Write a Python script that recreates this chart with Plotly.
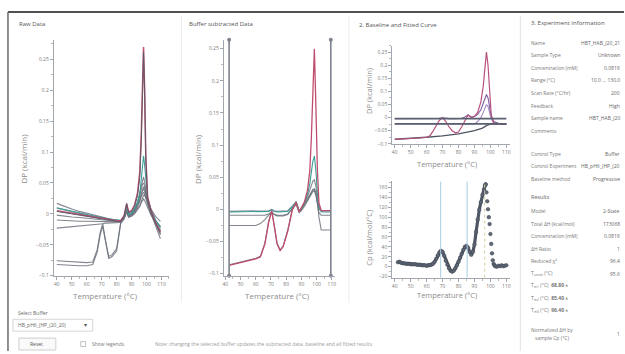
import plotly.graph_objects as go

W, H = 625, 354


def fx(p):
    return p / W


def fy(p):
    return 1 - p / H


FONT = "Open Sans"
GRAY = "#6c717c"
RED = "#c04d6e"
TEAL = "#3a9f97"
AXIS = "#a2a6ad"
TXT = "#6a6a6a"

# ---------------- Raw thermograms (DP, kcal/min) ----------------
RAW_T = [40, 45, 50, 55, 60, 64, 67, 69, 70.7, 72.5, 74.7, 77, 80, 82.7, 85, 86.7, 88, 90,
         92, 94, 95.5, 96.5, 97.3, 98, 98.7, 99.5, 100.7, 103, 106, 109.3]
raw_g1 = [0.017, 0.012, 0.008, 0.004, 0.001, -0.002, -0.004, -0.005, -0.006, -0.007, -0.008, -0.009,
          -0.010, -0.011, -0.007, 0.004, -0.004, -0.003, 0.002, 0.008, 0.014, 0.020, 0.026, 0.030,
          0.030, 0.026, 0.020, 0.008, -0.004, -0.012]
raw_g2 = [0.009, 0.006, 0.003, 0.000, -0.002, -0.004, -0.005, -0.006, -0.007, -0.008, -0.009, -0.010,
          -0.011, -0.012, -0.006, 0.008, -0.002, 0.000, 0.006, 0.014, 0.022, 0.032, 0.040, 0.044,
          0.040, 0.032, 0.022, 0.006, -0.010, -0.022]
raw_g3 = [0.004, 0.002, 0.000, -0.002, -0.004, -0.005, -0.006, -0.007, -0.008, -0.009, -0.010, -0.011,
          -0.012, -0.012, -0.004, 0.017, 0.002, 0.004, 0.012, 0.030, 0.060, 0.120, 0.200, 0.262,
          0.200, 0.090, 0.025, 0.004, -0.015, -0.032]
raw_g4 = [-0.002, -0.004, -0.005, -0.006, -0.007, -0.008, -0.009, -0.009, -0.010, -0.010, -0.011, -0.011,
          -0.012, -0.013, -0.005, 0.012, 0.000, 0.002, 0.008, 0.020, 0.035, 0.050, 0.058, 0.060,
          0.052, 0.038, 0.022, 0.000, -0.020, -0.040]
raw_g5 = [-0.010, -0.011, -0.011, -0.012, -0.012, -0.012, -0.012, -0.012, -0.012, -0.012, -0.012, -0.012,
          -0.013, -0.013, -0.006, 0.006, -0.003, -0.001, 0.004, 0.012, 0.020, 0.028, 0.033, 0.035,
          0.032, 0.026, 0.018, 0.000, -0.015, -0.028]
raw_g6 = [-0.023, -0.022, -0.021, -0.020, -0.019, -0.018, -0.017, -0.016, -0.016, -0.015, -0.015, -0.014,
          -0.014, -0.014, -0.008, 0.002, -0.006, -0.004, 0.000, 0.006, 0.012, 0.018, 0.022, 0.024,
          0.022, 0.018, 0.012, -0.002, -0.012, -0.020]
raw_l1 = [-0.076, -0.077, -0.078, -0.078, -0.079, -0.078, -0.058, -0.030, -0.016, -0.042, -0.069, -0.066,
          -0.056, -0.014, -0.006, 0.010, -0.002, 0.000, 0.006, 0.016, 0.028, 0.040, 0.048, 0.050,
          0.045, 0.034, 0.020, 0.002, -0.016, -0.034]
raw_l2 = [-0.082, -0.083, -0.083, -0.084, -0.084, -0.082, -0.062, -0.034, -0.020, -0.046, -0.072, -0.069,
          -0.060, -0.016, -0.008, 0.006, -0.004, -0.002, 0.004, 0.012, 0.022, 0.032, 0.038, 0.040,
          0.036, 0.028, 0.016, 0.000, -0.012, -0.026]
raw_red = [0.005, 0.003, 0.001, -0.001, -0.003, -0.004, -0.005, -0.006, -0.007, -0.008, -0.009, -0.010,
           -0.011, -0.011, -0.003, 0.016, 0.003, 0.005, 0.014, 0.034, 0.068, 0.130, 0.210, 0.270,
           0.205, 0.095, 0.028, 0.005, -0.014, -0.030]
raw_teal = [0.010, 0.007, 0.004, 0.001, -0.001, -0.003, -0.004, -0.005, -0.006, -0.007, -0.008, -0.009,
            -0.010, -0.011, -0.005, 0.009, -0.001, 0.001, 0.008, 0.018, 0.032, 0.055, 0.082, 0.094,
            0.080, 0.052, 0.026, 0.006, -0.010, -0.022]

# ---------------- Buffer-subtracted thermograms ----------------
BUF_T = [42.5, 48, 54, 60, 63, 66, 68.5, 70.5, 72, 74, 76, 78, 81, 84, 86.5, 88.5, 90, 92, 94,
         95.5, 96.5, 97.5, 98.5, 99.5, 100.5, 101.5, 103, 105, 109.3]
buf_low = [-0.086, -0.083, -0.080, -0.076, -0.073, -0.052, -0.018, -0.004, -0.022, -0.052, -0.063,
           -0.057, -0.032, 0.000, 0.012, -0.003, 0.002, 0.010, 0.020, 0.030, 0.038, 0.044, 0.046,
           0.036, 0.018, 0.004, -0.002, -0.002, -0.002]
buf_red = [-0.087, -0.084, -0.081, -0.077, -0.074, -0.054, -0.020, -0.002, -0.024, -0.054, -0.064,
           -0.058, -0.034, -0.001, 0.011, -0.004, 0.003, 0.012, 0.030, 0.060, 0.110, 0.190, 0.250,
           0.160, 0.060, 0.010, -0.002, -0.002, -0.002]
buf_teal = [-0.004, -0.004, -0.004, -0.004, -0.004, -0.004, -0.003, -0.001, -0.003, -0.004, -0.004,
            -0.004, -0.003, 0.004, 0.011, -0.002, 0.002, 0.010, 0.024, 0.040, 0.058, 0.075, 0.083,
            0.060, 0.025, 0.004, -0.004, -0.004, -0.004]
buf_g1 = [-0.003, -0.003, -0.003, -0.003, -0.003, -0.003, -0.002, 0.000, -0.002, -0.003, -0.003,
          -0.003, -0.002, 0.005, 0.012, -0.002, 0.001, 0.008, 0.016, 0.022, 0.027, 0.031, 0.032,
          0.026, 0.012, 0.000, -0.002, -0.002, -0.002]
buf_g2 = [-0.009, -0.009, -0.009, -0.009, -0.009, -0.009, -0.007, -0.004, -0.007, -0.009, -0.009,
          -0.009, -0.007, 0.001, 0.008, -0.005, -0.002, 0.005, 0.013, 0.019, 0.024, 0.028, 0.029,
          0.022, 0.008, -0.005, -0.009, -0.009, -0.009]
buf_g3 = [-0.025, -0.025, -0.025, -0.025, -0.022, -0.016, -0.009, -0.005, -0.008, -0.010, -0.010,
          -0.010, -0.008, 0.002, 0.010, -0.004, 0.000, 0.007, 0.015, 0.021, 0.026, 0.030, 0.031,
          0.024, 0.010, -0.012, -0.032, -0.032, -0.032]
BUF_RANGE_T = [42.5, 109.3]

# ---------------- Baselines and fitted curves ----------------
LEVEL_T = [40, 110]
level_a = [-0.004, -0.004]
level_b = [-0.024, -0.024]
PB_T = [40, 50, 60, 70, 80, 90, 95, 98, 100, 104, 110]
prog_base = [-0.083, -0.080, -0.075, -0.070, -0.062, -0.050, -0.040, -0.029, -0.025, -0.025, -0.026]
FIT_T = [40, 45, 50, 55, 60, 62, 64, 66, 68, 70, 72, 74, 76, 78, 80, 82, 84, 86, 88, 90, 92, 94,
         95.5, 96.5, 97.5, 98.5, 99.5, 100.5, 102, 105, 110]
fit_main = [-0.083, -0.082, -0.080, -0.078, -0.075, -0.070, -0.052, -0.030, -0.010, 0.000, -0.015,
            -0.035, -0.050, -0.058, -0.055, -0.035, -0.010, 0.010, 0.000, 0.005, 0.020, 0.060,
            0.120, 0.190, 0.250, 0.200, 0.100, 0.010, -0.020, -0.024, -0.025]
fit_two = [-0.004, -0.004, -0.004, -0.004, -0.004, -0.004, -0.004, -0.004, -0.003, -0.001, -0.003,
           -0.004, -0.004, -0.004, -0.004, -0.003, 0.002, 0.010, 0.002, 0.004, 0.012, 0.030,
           0.055, 0.075, 0.088, 0.075, 0.040, 0.005, -0.015, -0.022, -0.024]
fit_three = [-0.024, -0.024, -0.024, -0.024, -0.024, -0.024, -0.024, -0.024, -0.024, -0.024, -0.024,
             -0.024, -0.024, -0.024, -0.024, -0.024, -0.024, -0.024, -0.024, -0.024, -0.015, 0.000,
             0.020, 0.038, 0.050, 0.042, 0.020, -0.005, -0.020, -0.024, -0.025]

# ---------------- Excess heat capacity ----------------
CP_T = [42, 43, 44, 45, 46, 47, 48, 49, 50, 51, 52, 53, 54, 55, 56, 57, 58, 59, 60, 61, 62, 63, 64,
        65, 66, 67, 68, 69, 70, 71, 72, 73, 74, 75, 76, 77, 78, 79, 80, 81, 82, 83, 84, 85, 86, 87,
        88, 89, 90, 91, 92, 93, 94, 95, 96, 96.5, 97, 97.5, 98, 98.5, 99, 99.5, 100, 100.5, 101,
        101.5, 102, 102.5, 103, 104, 105, 106, 107, 108, 109, 110]
CP = [9, 10, 8, 7, 7, 6, 6, 6, 5, 5, 5, 5, 4, 4, 4, 3, 3, 3, 2, 3, 3, 4, 6,
      10, 16, 23, 29, 32, 30, 22, 12, 4, -3, -8, -10, -8, -3, 3, 10, 18, 26, 34, 40, 42, 38, 30,
      24, 30, 45, 70, 95, 115, 130, 145, 156, 163, 166, 150, 132, 116, 100, 86, 66, 46, 27,
      13, 6, 3, 1, 0, 2, 1, 3, 1, 2, 3]
TM = [68.8, 85.4, 96.4]

# ---------------- Panel text ----------------
EXP_LABELS = ["Name", "Sample Type", "Concentration (mM)", "Range (°C)", "Scan Rate (°C/hr)",
              "Feedback", "Sample name", "Comments"]
EXP_VALUES = ["HBT_HAB_(20_21", "Unknown", "0.0819", "10.0 ... 130.0", "200", "High",
              "HBT_HAB_(20", ""]
CTRL_LABELS = ["Control Type", "Control Experiment", "Baseline method"]
CTRL_VALUES = ["Buffer", "HB_pH6_(HP_(20", "Progressive"]
RES_LABELS = ["Model", "Total ΔH (kcal/mol)", "Concentration (mM)", "ΔH Ratio", "Reduced χ²",
              "T<sub>onset</sub> (°C)"]
RES_VALUES = ["2-State", "173068", "0.0819", "1", "96.4", "95.6"]
BUFFER_NAME = "HB_pH6_(HP_(20_20)"

fig = go.Figure()


def line(x, y, color, ax, width=1.1, opacity=1.0):
    fig.add_trace(go.Scatter(x=x, y=y, mode="lines", xaxis="x" + ax, yaxis="y" + ax,
                             line=dict(color=color, width=width), opacity=opacity,
                             hoverinfo="skip", showlegend=False))


# raw data
for s in [raw_g1, raw_g2, raw_g4, raw_g5, raw_g6, raw_l1, raw_l2]:
    line(RAW_T, s, GRAY, "", 1.1, 0.85)
line(RAW_T, raw_teal, TEAL, "", 1.1)
line(RAW_T, raw_red, RED, "", 1.5)
line(RAW_T, raw_g3, "#555a66", "", 0.9)

# buffer subtracted
for s in [buf_g1, buf_g2, buf_g3, buf_low]:
    line(BUF_T, s, GRAY, "2", 1.1, 0.85)
line(BUF_T, buf_teal, TEAL, "2", 1.1)
line(BUF_T, buf_red, RED, "2", 1.3)
for t in BUF_RANGE_T:
    fig.add_trace(go.Scatter(x=[t, t], y=[-0.103, 0.264], mode="lines+markers", xaxis="x2",
                             yaxis="y2", line=dict(color="#7d838e", width=1.6),
                             marker=dict(size=4, color="#7d838e"), cliponaxis=False,
                             hoverinfo="skip", showlegend=False))

# baseline & fit
line(PB_T, prog_base, "#4e5462", "3", 1.4)
line(FIT_T, fit_three, "#a88cc4", "3", 1.1)
line(FIT_T, fit_two, "#7b5ea0", "3", 1.1)
line(FIT_T, fit_main, "#b8507e", "3", 1.2)
line(LEVEL_T, level_a, "#5a6070", "3", 1.6)
line(LEVEL_T, level_b, "#5a6070", "3", 1.6)

# Cp: dense run up to the maximum joined as a band, descending points as single dots
for t in TM[:2]:
    fig.add_shape(type="line", xref="x4", yref="y4", x0=t, x1=t, y0=-22, y1=172,
                  line=dict(color="#a9cde0", width=1))
fig.add_shape(type="line", xref="x4", yref="y4", x0=TM[2], x1=TM[2], y0=-22, y1=172,
              line=dict(color="#d8cf9c", width=1, dash="dot"))
peak = CP.index(max(CP))
fig.add_trace(go.Scatter(x=CP_T[:peak + 1], y=CP[:peak + 1], mode="lines+markers",
                         xaxis="x4", yaxis="y4", line=dict(color="#4f5664", width=3.2),
                         marker=dict(size=3.6, color="#5f6776",
                                     line=dict(color="#3d4450", width=0.5)),
                         hoverinfo="skip", showlegend=False))
fig.add_trace(go.Scatter(x=CP_T[peak:], y=CP[peak:], mode="markers", xaxis="x4", yaxis="y4",
                         marker=dict(size=3.6, color="#5f6776",
                                     line=dict(color="#3d4450", width=0.5)),
                         hoverinfo="skip", showlegend=False))


def axis(domain, rng, dtick, minor, anchor, **kw):
    d = dict(domain=domain, range=rng, dtick=dtick, tick0=0, anchor=anchor, showline=True,
             linecolor=AXIS, linewidth=1, ticks="outside", ticklen=3, tickwidth=1,
             tickcolor=AXIS, tickfont=dict(size=5, color="#7a7a7a", family=FONT),
             showgrid=False, zeroline=False, fixedrange=True,
             minor=dict(dtick=minor, ticks="outside", ticklen=2, tickcolor="#b8b8b8"))
    d.update(kw)
    return d


fig.update_layout(
    width=W, height=H, margin=dict(l=0, r=0, t=0, b=0),
    paper_bgcolor="white", plot_bgcolor="white",
    font=dict(family=FONT, color=TXT),
    xaxis=axis([fx(53), fx(168.5)], [38, 115], 10, 5, "y"),
    yaxis=axis([fy(278), fy(40)], [-0.1, 0.282], 0.05, 0.025, "x"),
    xaxis2=axis([fx(223.5), fx(335)], [39, 112], 10, 5, "y2"),
    yaxis2=axis([fy(278), fy(40)], [-0.103, 0.264], 0.05, 0.025, "x2"),
    xaxis3=axis([fx(392.6), fx(510.2)], [38.5, 112], 10, 5, "y3"),
    yaxis3=axis([fy(145), fy(46)], [-0.1, 0.275], 0.05, 0.025, "x3"),
    xaxis4=axis([fx(392.6), fx(510.2)], [38.5, 112], 10, 5, "y4"),
    yaxis4=axis([fy(280), fy(183)], [-22, 172], 20, 10, "x4"),
)

ann = []


def text(x, y, s, size=5, color=TXT, anchor="left", angle=0):
    ann.append(dict(x=fx(x), y=fy(y), xref="paper", yref="paper", text=s, showarrow=False,
                    xanchor=anchor, yanchor="middle", textangle=angle,
                    font=dict(size=size, color=color, family=FONT)))


# panel titles
text(16, 24, "Raw Data", 6, "#555")
text(187, 24, "Buffer subtracted Data", 6, "#555")
text(357, 25, "2. Baseline and Fitted Curve", 6, "#555")
text(530, 23, "3. Experiment Information", 6, "#555")

# axis titles
ttl = "#8c8c8c"
text(23, 160, "DP (kcal/min)", 8, ttl, "center", -90)
text(105, 298, "Temperature (°C)", 8, ttl, "center")
text(197, 160, "DP (kcal/min)", 8, ttl, "center", -90)
text(277, 298, "Temperature (°C)", 8, ttl, "center")
text(369, 92, "DP (kcal/min)", 7.5, ttl, "center", -90)
text(447, 165, "Temperature (°C)", 7.5, ttl, "center")
text(369, 240, "Cp (kcal/mol/°C)", 7.5, ttl, "center", -90)
text(447, 298, "Temperature (°C)", 7.5, ttl, "center")

# experiment information
VAL_RIGHT = 623
for i, (lab, val) in enumerate(zip(EXP_LABELS, EXP_VALUES)):
    y = 43 + i * 12.7
    text(530, y, lab, 5, "#777")
    if val:
        text(VAL_RIGHT, y, val, 5, "#666", "right")
for i, (lab, val) in enumerate(zip(CTRL_LABELS, CTRL_VALUES)):
    y = 155 + i * 12.6
    text(530, y, lab, 5, "#777")
    text(VAL_RIGHT, y, val, 5, "#666", "right")
text(530, 199, "Results", 5.5, "#666")
for i, (lab, val) in enumerate(zip(RES_LABELS, RES_VALUES)):
    y = 213 + i * 12.6
    text(530, y, lab, 5, "#777")
    text(VAL_RIGHT, y, val, 5, "#666", "right")
for i, t in enumerate(TM):
    y = 288 + i * 12.6
    text(530, y, "T<sub>m%d</sub> (°C)  <b>%.2f</b> ±" % (i + 1, t), 5, "#777")
text(530, 333, "Normalized ΔH by", 5, "#777")
text(534, 341, "sample Cp (°C)", 5, "#777")
text(VAL_RIGHT, 337, "1", 5, "#666", "right")

# controls
text(15, 316, "Select Buffer", 5, "#666")
text(15, 328, BUFFER_NAME, 5, "#666")
text(85, 328, "▾", 6, "#555", "center")
text(36, 347, "Reset", 5, "#555", "center")
text(89, 347, "Show legends", 5, "#777")
text(152, 347, "Note: changing the selected buffer updates the subtracted data, baseline and "
     "all fitted results", 5, "#9a9a9a")

fig.update_layout(annotations=ann)

shapes = [
    dict(type="line", xref="paper", yref="paper", x0=fx(7), x1=1, y0=fy(12), y1=fy(12),
         line=dict(color="#505050", width=2)),
    dict(type="line", xref="paper", yref="paper", x0=fx(7), x1=fx(7), y0=fy(12), y1=0,
         line=dict(color="#6a6a6a", width=1.5)),
    dict(type="line", xref="paper", yref="paper", x0=fx(181), x1=fx(181), y0=fy(16), y1=fy(305),
         line=dict(color="#eeeeee", width=1)),
    dict(type="line", xref="paper", yref="paper", x0=fx(349), x1=fx(349), y0=fy(16), y1=fy(305),
         line=dict(color="#eeeeee", width=1)),
    dict(type="line", xref="paper", yref="paper", x0=fx(521), x1=fx(521), y0=fy(16), y1=0,
         line=dict(color="#e2e2e2", width=1)),
    dict(type="rect", xref="paper", yref="paper", x0=fx(12), x1=fx(92), y0=fy(334), y1=fy(322),
         line=dict(color="#d6d6d6", width=1)),
    dict(type="rect", xref="paper", yref="paper", x0=fx(18), x1=fx(55), y0=fy(353), y1=fy(341),
         line=dict(color="#cfcfcf", width=1), fillcolor="#fafafa"),
    dict(type="rect", xref="paper", yref="paper", x0=fx(80), x1=fx(85), y0=fy(349.5), y1=fy(344.5),
         line=dict(color="#b0b0b0", width=0.8)),
]
for s in shapes:
    fig.add_shape(**s)

fig.write_html("out.html")
